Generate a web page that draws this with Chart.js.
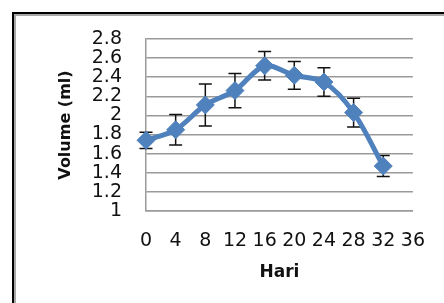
<!DOCTYPE html>
<html>
<head>
<meta charset="utf-8">
<script src="https://cdn.jsdelivr.net/npm/chart.js@4.4.1/dist/chart.umd.min.js"></script>
<style>
  html, body { margin: 0; padding: 0; background: #fff; overflow: hidden; }
  #myChart { display: block; }
</style>
</head>
<body>
<canvas id="myChart" width="444" height="303"></canvas>
<script>
// data
var hari = ['0', '4', '8', '12', '16', '20', '24', '28', '32', '36'];
var volume = [1.74, 1.85, 2.11, 2.26, 2.52, 2.42, 2.35, 2.03, 1.47, null];
var galat = [0.085, 0.16, 0.22, 0.18, 0.15, 0.145, 0.15, 0.15, 0.11, null];
var yMin = 1, yMax = 2.8, yStep = 0.2;

// bingkai kiri-atas seperti hasil potongan gambar
var bingkai = {
    id: 'bingkai',
    beforeDraw: function (chart) {
        var c = chart.ctx;
        c.save();
        c.fillStyle = '#a8a8a8';
        c.fillRect(14, 14, chart.width, 2);
        c.fillRect(14, 14, 2, chart.height);
        c.fillStyle = '#000';
        c.fillRect(12, 12, chart.width, 2);
        c.fillRect(12, 12, 2, chart.height);
        c.restore();
    }
};

// error bar, digambar sebelum garis supaya tertutup marker
var errorBars = {
    id: 'errorBars',
    beforeDatasetsDraw: function (chart) {
        var ctx = chart.ctx;
        var x = chart.scales.x, y = chart.scales.y;
        ctx.save();
        ctx.strokeStyle = '#111';
        ctx.lineWidth = 1.5;
        volume.forEach(function (v, i) {
            if (v == null || galat[i] == null) return;
            var px = x.getPixelForValue(i);
            var top = y.getPixelForValue(v + galat[i]);
            var bot = y.getPixelForValue(v - galat[i]);
            ctx.beginPath();
            ctx.moveTo(px, top); ctx.lineTo(px, bot);
            ctx.moveTo(px - 6.5, top); ctx.lineTo(px + 6.5, top);
            ctx.moveTo(px - 6.5, bot); ctx.lineTo(px + 6.5, bot);
            ctx.stroke();
        });
        ctx.restore();
    }
};

var ctx = document.getElementById('myChart').getContext('2d');
var myChart = new Chart(ctx, {
    type: 'line',
    data: {
        labels: hari,
        datasets: [{
            label: 'Volume',
            data: volume,
            borderColor: '#4F81BD',
            backgroundColor: '#4F81BD',
            borderWidth: 5,
            pointStyle: 'rectRot',
            pointRadius: 9,
            pointBackgroundColor: '#4F81BD',
            pointBorderColor: '#4F81BD',
            pointBorderWidth: 1,
            tension: 0.3
        }]
    },
    options: {
        responsive: false,
        animation: false,
        layout: { padding: { left: 56, right: 29, top: 39, bottom: 20 } },
        plugins: { legend: { display: false }, tooltip: { enabled: false } },
        scales: {
            x: {
                offset: false,
                grid: { display: false, drawTicks: false },
                border: { display: true, color: '#9a9a9a', width: 1.5 },
                ticks: {
                    color: '#111', padding: 19, maxRotation: 0, autoSkip: false,
                    font: { family: 'DejaVu Sans', size: 19 }
                },
                title: {
                    display: true, text: 'Hari', color: '#111', padding: 0,
                    font: { family: 'DejaVu Sans', size: 17, weight: 'bold' }
                },
                afterFit: function (scale) { scale.height = 72; }
            },
            y: {
                min: yMin, max: yMax,
                grid: { color: '#9a9a9a', lineWidth: 1.5, drawTicks: false },
                border: { display: true, color: '#9a9a9a', width: 1.5 },
                ticks: {
                    stepSize: yStep, autoSkip: false, color: '#111', padding: 24,
                    font: { family: 'DejaVu Sans', size: 19 },
                    callback: function (v) { return String(Number(v.toFixed(1))); }
                },
                title: {
                    display: true, text: 'Volume (ml)', color: '#111', padding: 0,
                    font: { family: 'DejaVu Sans', size: 16, weight: 'bold' }
                },
                afterFit: function (scale) { scale.width = 90; }
            }
        }
    },
    plugins: [bingkai, errorBars]
});
</script>
</body>
</html>
